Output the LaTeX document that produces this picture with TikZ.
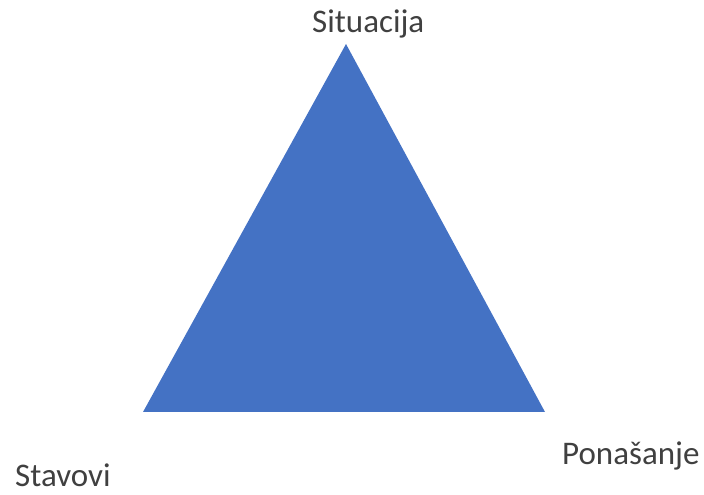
\documentclass[tikz,border=0pt]{standalone}
\usepackage{fontspec}
\setmainfont{Carlito}
\definecolor{triblue}{HTML}{4472C4}
\definecolor{labelgray}{HTML}{404040}
\begin{document}
\begin{tikzpicture}[x=1pt,y=1pt,
  lbl/.style={anchor=base west,inner sep=0pt,text=labelgray,font=\fontsize{33}{38}\selectfont}]
\useasboundingbox (0,0) rectangle (704,495);
\coordinate (top) at (346,451);
\coordinate (bl) at (143,83);
\coordinate (br) at (545,83);
\fill[triblue] (top) -- (bl) -- (br) -- cycle;
\node[lbl] (sit) at (312,462) {Situacija};
\node[lbl] (pon) at (562,30) {Ponašanje};
\node[lbl] (sta) at (15,8) {Stavovi};
\end{tikzpicture}
\end{document}
